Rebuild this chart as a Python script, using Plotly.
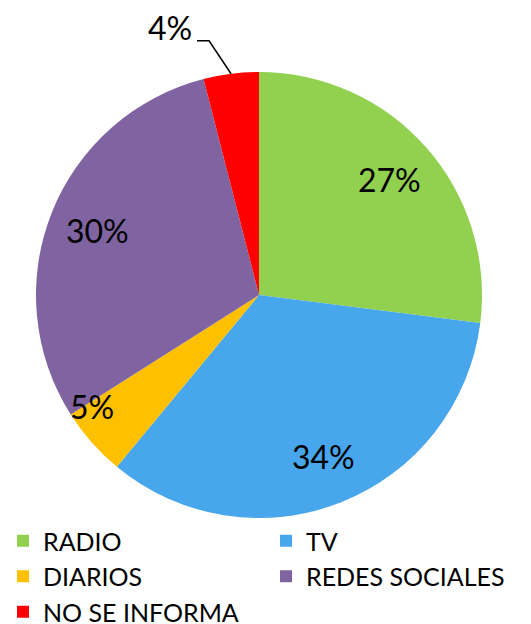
import math
import plotly.graph_objects as go

labels = ["RADIO", "TV", "DIARIOS", "REDES SOCIALES", "NO SE INFORMA"]
values = [27, 34, 5, 30, 4]
colors = ["#92D050", "#47A6EC", "#FFC000", "#8064A2", "#FF0000"]
text_labels = [f"{v}%" for v in values]

# the page adds an 8px body margin, so the figure is drawn 8px smaller
W, H = 523, 616
mt, mb = 64, 106
pie_left, pie_size = 28, 446
ph = H - mt - mb
FONT = "Lato"

dx0, dx1 = pie_left / W, (pie_left + pie_size) / W

fig = go.Figure(go.Pie(
    labels=labels, values=values, sort=False, direction="clockwise", rotation=0,
    marker=dict(colors=colors, line=dict(width=0)),
    textinfo="none", hoverinfo="label+percent",
    domain=dict(x=[dx0, dx1], y=[0, 1]),
))

total = sum(values)
cx, cy = (dx0 + dx1) / 2, 0.5
rx, ry = (pie_size / 2) / W, 0.5
cum = 0
for i, v in enumerate(values):
    mid = (cum + v / 2) / total
    cum += v
    ang = 2 * math.pi * mid
    sx, sy = math.sin(ang), math.cos(ang)
    if i < len(values) - 1:
        small = v < 10
        k = 0.9 if small else 0.78
        fig.add_annotation(x=cx + rx * k * sx, y=cy + ry * k * sy, xref="paper", yref="paper",
                           text=text_labels[i], showarrow=False,
                           xanchor="center", yanchor="middle",
                           xshift=-16 if small else 0, yshift=21 if small else 0,
                           font=dict(family=FONT, size=32, color="black"))
    else:
        ex, ey = cx + rx * sx, cy + ry * sy
        kx = ex - 22 / W
        ky = ey + 33 / ph
        hx = kx - 12 / W
        fig.add_shape(type="path", xref="paper", yref="paper",
                      path=f"M {ex} {ey} L {kx} {ky} L {hx} {ky}",
                      line=dict(color="black", width=1.5))
        fig.add_annotation(x=hx - 3 / W, y=ky + 13 / ph, xref="paper", yref="paper",
                           text=text_labels[i], showarrow=False, xanchor="right", yanchor="middle",
                           font=dict(family=FONT, size=32, color="black"))

fig.update_layout(
    width=W, height=H,
    margin=dict(l=0, r=0, t=mt, b=mb, autoexpand=False),
    paper_bgcolor="white", plot_bgcolor="white",
    showlegend=True,
    legend=dict(orientation="h", x=-5 / W, xanchor="left", y=0, yanchor="top",
                bgcolor="rgba(0,0,0,0)",
                font=dict(family=FONT, size=25, color="black"),
                entrywidth=218, entrywidthmode="pixels",
                tracegroupgap=0, traceorder="normal"),
)

fig.write_html("out.html")
